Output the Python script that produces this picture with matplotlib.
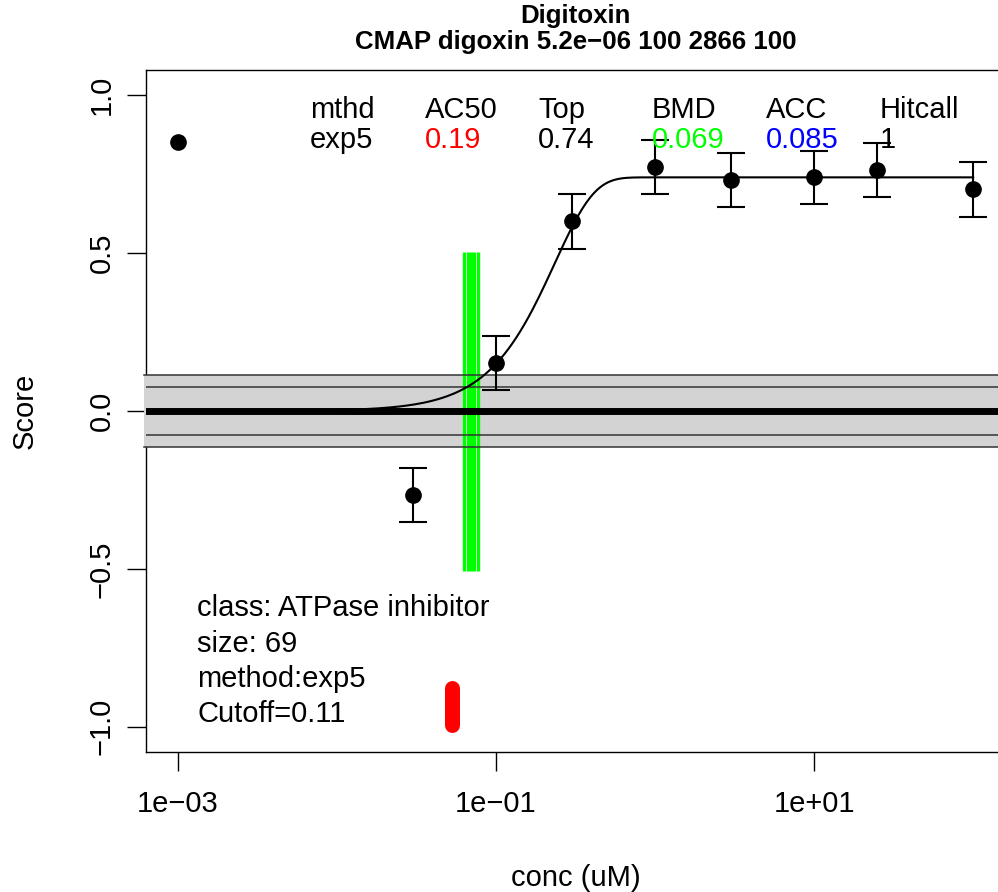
import matplotlib
matplotlib.use("Agg")
import matplotlib.pyplot as plt
import matplotlib.transforms as mtransforms
from matplotlib.patches import Rectangle
import numpy as np

# dose-response data
conc = [0.001, 0.03, 0.1, 0.3, 1, 3, 10, 25, 100]
score = [0.851, -0.266, 0.152, 0.601, 0.772, 0.731, 0.740, 0.764, 0.702]
score_err = [0, 0.084, 0.086, 0.087, 0.085, 0.086, 0.085, 0.086, 0.086]

# exp5 fit parameters
fit_top = 0.74
fit_ga = 0.19
fit_p = 1.75

# markers
cutoff = 0.113
inner_band = 0.076
bmd_conc = 0.0697
bmd_lo, bmd_hi = 0.0647, 0.0748
red_conc = 0.0532

header_cols = ["mthd", "AC50", "Top", "BMD", "ACC", "Hitcall"]
header_vals = ["exp5", "0.19", "0.74", "0.069", "0.085", "1"]
header_colors = ["black", "red", "black", "#00FF00", "blue", "black"]
info_lines = ["class: ATPase inhibitor", "size: 69", "method:exp5", "Cutoff=0.11"]

xtick_vals = [1e-3, 1e-1, 1e1]
xtick_labels = ["1e\u221203", "1e\u221201", "1e+01"]
ytick_vals = [-1.0, -0.5, 0.0, 0.5, 1.0]
ytick_labels = ["\u22121.0", "\u22120.5", "0.0", "0.5", "1.0"]

plt.rcParams["font.family"] = ["Liberation Sans", "DejaVu Sans"]

W, H = 998, 892
fig = plt.figure(figsize=(W / 100, H / 100), dpi=100)
ax = fig.add_axes([146 / W, (H - 752) / H, 859 / W, 682 / H])
ax.set_xscale("log")
ax.set_xlim(10 ** -3.2, 10 ** 2.2)
ax.set_ylim(-1.08, 1.08)

# cutoff band
trans = mtransforms.blended_transform_factory(ax.transAxes, ax.transData)
ax.add_patch(Rectangle((-0.002, -cutoff), 1.1, 2 * cutoff, transform=trans,
                       facecolor="#D3D3D3", edgecolor="none", zorder=3, clip_on=False))

# BMD line
ax.plot([bmd_conc, bmd_conc], [-0.506, 0.503], color="#00FF00", lw=12.5,
        solid_capstyle="butt", zorder=3.2)
for c in (bmd_lo, bmd_hi):
    ax.plot([c, c], [-0.506, 0.503], color="#C8FFC8", lw=0.7, zorder=3.3)

for yv in (cutoff, -cutoff):
    ax.plot([-0.002, 1.1], [yv, yv], transform=trans, color="#333333", lw=1.1,
            zorder=3.5, clip_on=False)
for yv in (inner_band, -inner_band):
    ax.axhline(yv, color="#333333", lw=1.1, zorder=3.5)
ax.axhline(0, color="black", lw=5, zorder=3.6)

# red marker
ax.plot([red_conc, red_conc], [-0.995, -0.878], color="red", lw=10.8,
        solid_capstyle="round", zorder=3.2)

# fitted curve
xs = np.logspace(-3, 2, 400)
ys = fit_top * (1 - 2 ** (-(xs / fit_ga) ** fit_p))
ax.plot(xs, ys, color="black", lw=1.5, zorder=4)

# points
ax.plot(conc[0], score[0], "o", color="black", ms=11, zorder=5)
ax.errorbar(conc[1:], score[1:], yerr=score_err[1:], fmt="o", color="black",
            ms=11, capsize=9.8, elinewidth=1.5, capthick=1.5, zorder=5)

# header table
col_x = [0.1909, 0.3248, 0.4567, 0.5887, 0.7218, 0.8537]
for xc, name, val, colr in zip(col_x, header_cols, header_vals, header_colors):
    ax.text(xc, 0.9292, name, transform=ax.transAxes, fontsize=21,
            va="baseline", ha="left", zorder=6)
    ax.text(xc, 0.8861, val, transform=ax.transAxes, fontsize=21,
            va="baseline", ha="left", color=colr, zorder=6)

info_y = [0.1994, 0.1466, 0.0953, 0.0440]
for yy, line in zip(info_y, info_lines):
    ax.text(0.0594, yy, line, transform=ax.transAxes, fontsize=21,
            va="baseline", ha="left", zorder=6)

# title
ax.text(0.5, (752 - 22.7) / 682, "Digitoxin", transform=ax.transAxes,
        fontsize=18.6, fontweight="bold", ha="center", va="baseline")
ax.text(0.5, (752 - 49.3) / 682, "CMAP digoxin 5.2e\u221206 100 2866 100",
        transform=ax.transAxes, fontsize=18.6, fontweight="bold",
        ha="center", va="baseline")

# axes
ax.set_xticks(xtick_vals)
ax.set_xticklabels(xtick_labels)
ax.minorticks_off()
ax.set_yticks(ytick_vals)
ax.set_yticklabels(ytick_labels, rotation=90, va="center")
ax.tick_params(axis="both", direction="out", length=14, width=1.0,
               labelsize=21, color="black")
ax.tick_params(axis="x", pad=13)
ax.tick_params(axis="y", pad=8)
for s in ax.spines.values():
    s.set_linewidth(1.0)
    s.set_color("black")

ax.set_xlabel("conc (uM)", fontsize=21)
ax.xaxis.set_label_coords(0.5, (752 - 878) / 682)
ax.xaxis.label.set_va("center")
ax.set_ylabel("Score", fontsize=21)
ax.yaxis.set_label_coords((25 - 146) / 859, 0.5)
ax.yaxis.label.set_va("center")

fig.savefig("out.png", dpi=100)
